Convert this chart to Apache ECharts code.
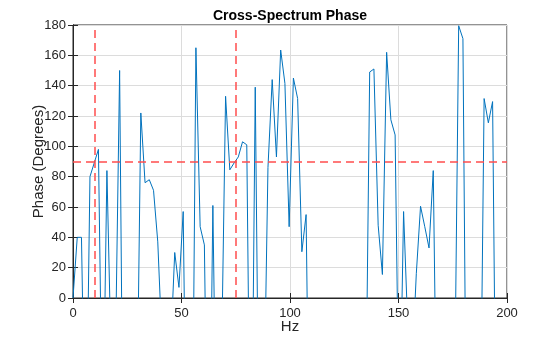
<!DOCTYPE html>
<html>
<head>
<meta charset="utf-8">
<script src="https://cdn.jsdelivr.net/npm/echarts@6/dist/echarts.min.js"></script>
<style>html,body{margin:0;padding:0;background:#fff}#c{width:560px;height:337px}</style>
</head>
<body>
<div id="c"></div>
<script>
// Frequency bin spacing (Hz) of the spectrum
const FREQ_STEP = 1000 / 512;
// Phase values (degrees) per frequency bin; values below 0 fall outside the 0..180 view
const phase = [
  0, 40, 40, -125, 80, 89, 98, -105, 84, -40,
  -40, 150, -170, -90, -40, -100, 122, 76, 78, 71,
  37, -30, -60, -36, 30, 7, 57, -170, -165, 165,
  47, 35, -170, 61, -140, -50, 133, 84.5, 89, 93,
  103, 101, -165, 139, -140, -85, 86, 144, 93, 163.5,
  141.5, 47, 145, 131.5, 30.5, 55, -170, -120, -60, -150,
  -90, -30, -110, -140, -70, -100, -50, -160, -80, -100,
  149, 151, 48, 15.5, 162, 117.5, 107.5, -100, 57, -20,
  -45, 16, 60.5, 47, 33, 84, -130, -60, -150, -90,
  -77, 179.5, 171, -170, -110, -60, -130, 131.5, 115.5, 129.5,
  -160, -90, -40
];
const xTicks = [0, 50, 100, 150, 200];
const yTicks = [0, 20, 40, 60, 80, 100, 120, 140, 160, 180];
const vLines = [10, 75];
const hLine = 90;

const seriesData = phase.map((v, i) => [i * FREQ_STEP, v]);
const txt = '#262626';
const font = 'Liberation Sans, Arial, Helvetica, sans-serif';

const chart = echarts.init(document.getElementById('c'), null, {renderer: 'canvas'});
chart.setOption({
  animation: false,
  title: {
    text: 'Cross-Spectrum Phase', left: 285, top: 4, textAlign: 'center',
    textStyle: {fontFamily: font, fontSize: 14, fontWeight: 'bold', color: '#000'}
  },
  grid: {left: 73, right: 53, top: 25, bottom: 39, show: true, borderColor: txt, borderWidth: 1,
         backgroundColor: 'transparent', outerBoundsMode: 'none', containLabel: false},
  xAxis: [{
    type: 'value', min: xTicks[0], max: xTicks[xTicks.length - 1], interval: 50,
    name: 'Hz', nameLocation: 'middle', nameGap: 21, nameMoveOverlap: false,
    nameTextStyle: {fontFamily: font, fontSize: 15, color: txt},
    axisLine: {show: true, lineStyle: {color: txt}},
    axisTick: {show: true, inside: true, length: 5, lineStyle: {color: txt}},
    axisLabel: {fontFamily: font, fontSize: 13, color: txt, margin: 9},
    splitLine: {show: true, lineStyle: {color: '#dcdcdc', width: 1}}
  }, {
    type: 'value', position: 'top', min: 0, max: 200, interval: 50,
    axisLine: {show: true, lineStyle: {color: txt}},
    axisTick: {show: true, inside: true, length: 5, lineStyle: {color: txt}},
    axisLabel: {show: false}, splitLine: {show: false}
  }],
  yAxis: [{
    type: 'value', min: yTicks[0], max: yTicks[yTicks.length - 1], interval: 20,
    name: 'Phase (Degrees)', nameLocation: 'middle', nameGap: 27, nameRotate: 90, nameMoveOverlap: false,
    nameTextStyle: {fontFamily: font, fontSize: 15, color: txt},
    axisLine: {show: true, lineStyle: {color: txt}},
    axisTick: {show: true, inside: true, length: 5, lineStyle: {color: txt}},
    axisLabel: {fontFamily: font, fontSize: 13, color: txt, margin: 7},
    splitLine: {show: true, lineStyle: {color: '#dcdcdc', width: 1}}
  }, {
    type: 'value', position: 'right', min: 0, max: 180, interval: 20,
    axisLine: {show: true, lineStyle: {color: txt}},
    axisTick: {show: true, inside: true, length: 5, lineStyle: {color: txt}},
    axisLabel: {show: false}, splitLine: {show: false}
  }],
  series: [{
    type: 'line', data: seriesData, showSymbol: false, clip: true,
    lineStyle: {color: '#0072BD', width: 1}, z: 3,
    markLine: {
      silent: true, symbol: 'none', label: {show: false},
      lineStyle: {color: '#ff4d4d', type: [8, 5], width: 1.5},
      data: vLines.map(v => ({xAxis: v})).concat([{yAxis: hLine}])
    }
  }]
});
</script>
</body>
</html>
